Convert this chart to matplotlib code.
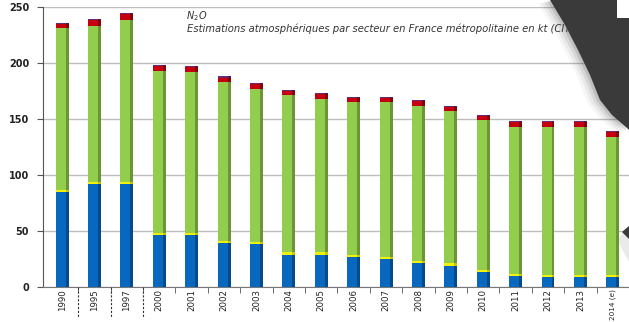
import numpy as np
import matplotlib.pyplot as plt
from matplotlib.patches import Polygon, Rectangle

# N2O emissions by sector, France (kt)
years = ['1990', '1995', '1997', '2000', '2001', '2002', '2003', '2004', '2005',
         '2006', '2007', '2008', '2009', '2010', '2011', '2012', '2013', '2014 (e)']
industrie = [85, 92, 92, 46, 46, 39, 38, 29, 29, 27, 25, 21, 19, 13, 10, 9, 9, 9]
energie = [2, 2, 2, 2, 2, 2, 2, 2, 2, 2, 2, 2, 2, 2, 2, 2, 2, 2]
agriculture = [144, 139, 144, 145, 144, 142, 137, 140, 137, 136, 138, 139, 136, 134,
               131, 132, 132, 123]
residentiel = [4, 5, 6, 4, 4, 4, 4, 4, 4, 4, 4, 4, 4, 4, 4, 4, 4, 4]
transport = [1, 1, 1, 1, 1, 1, 1, 1, 1, 1, 1, 1, 1, 1, 1, 1, 1, 1]

series = [
    (industrie, '#0868bd', '#044a8c'),
    (energie, '#f2f20a', '#c8c800'),
    (agriculture, '#92cd4e', '#6a9634'),
    (residentiel, '#c40010', '#8a0008'),
    (transport, '#6a2a7a', '#4a1a56'),
]

W, H = 629, 322
fig = plt.figure(figsize=(W / 100, H / 100), dpi=100)
ax = fig.add_axes([43 / W, 1 - 287 / H, 1 - 43 / W, (287 - 7) / H])

x = np.arange(len(years))
w_front, w_side = 0.31, 0.09
bottom = np.zeros(len(years))
for vals, c, dark in series:
    vals = np.array(vals, dtype=float)
    ax.bar(x - w_side / 2, vals, width=w_front, bottom=bottom, color=c, zorder=3)
    ax.bar(x + w_front / 2, vals, width=w_side, bottom=bottom, color=dark, zorder=3)
    bottom += vals

ax.set_xlim(-0.59, len(years) - 0.5)
ax.set_ylim(0, 250)
ax.set_yticks(range(0, 251, 50))
ax.yaxis.grid(True, color='#bdbdbd', lw=1)
ax.set_axisbelow(True)
for s in ['top', 'right']:
    ax.spines[s].set_visible(False)
ax.spines['left'].set_color('#555555')
ax.spines['bottom'].set_color('#777777')
ax.tick_params(axis='y', length=4, color='#555555', pad=6)
for lab in ax.get_yticklabels():
    lab.set_fontsize(7)
    lab.set_fontweight('bold')
    lab.set_color('#222222')

ax.set_xticks(x)
ax.set_xticklabels(years, rotation=90, fontsize=6.2, fontfamily='Liberation Sans Narrow',
                   color='#222222')
ax.get_xticklabels()[-1].set_fontsize(5.2)
ax.tick_params(axis='x', length=0, pad=1.5)
ax.set_xticks(x[:-1] + 0.5, minor=True)
ax.tick_params(axis='x', which='minor', length=4, color='#555555')

# dashed separators under the first irregular years
for xb in [0.5, 1.5, 2.5]:
    ax.plot([xb, xb], [0, -28], ls=(0, (2, 1.5)), color='#333333', lw=0.8,
            clip_on=False, zorder=4)

fig.text(186 / W, 1 - 16 / H, 'N$_2$O', fontsize=7, style='italic', color='#333333',
         va='center')
fig.text(187 / W, 1 - 29 / H,
         'Estimations atmosphériques par secteur en France métropolitaine en kt (CITEPA)',
         fontsize=7.2, style='italic', color='#333333', va='center')


def fig_poly(pts, **kw):
    fig.patches.append(Polygon([(px / W, 1 - py / H) for px, py in pts], closed=True,
                               transform=fig.transFigure, lw=0, **kw))


# dark ribbon across the top right corner, with a soft shadow on its left
edge = [(550, 0), (565, 25), (578, 50), (590, 75), (600, 100), (612, 115),
        (627, 128), (629, 130)]
for k, a in zip([12, 9, 6, 3], [0.05, 0.08, 0.12, 0.18]):
    fig_poly([(px - k, py + k * 0.3) for px, py in edge] + [(629, 0)],
             color='#555555', alpha=a, zorder=10)
fig_poly(edge + [(629, 0)], color='#3a3a3a', zorder=11)
fig.patches.append(Rectangle((617 / W, 1 - 18 / H), 12 / W, 18 / H,
                             transform=fig.transFigure, color='white', lw=0, zorder=12))
fig_poly([(617, 240), (629, 226), (629, 262)], color='#777777', alpha=0.15, zorder=10)
fig_poly([(622, 232), (629, 226), (629, 239)], color='#3a3a3a', zorder=11)

fig.savefig('out.png', dpi=100)
